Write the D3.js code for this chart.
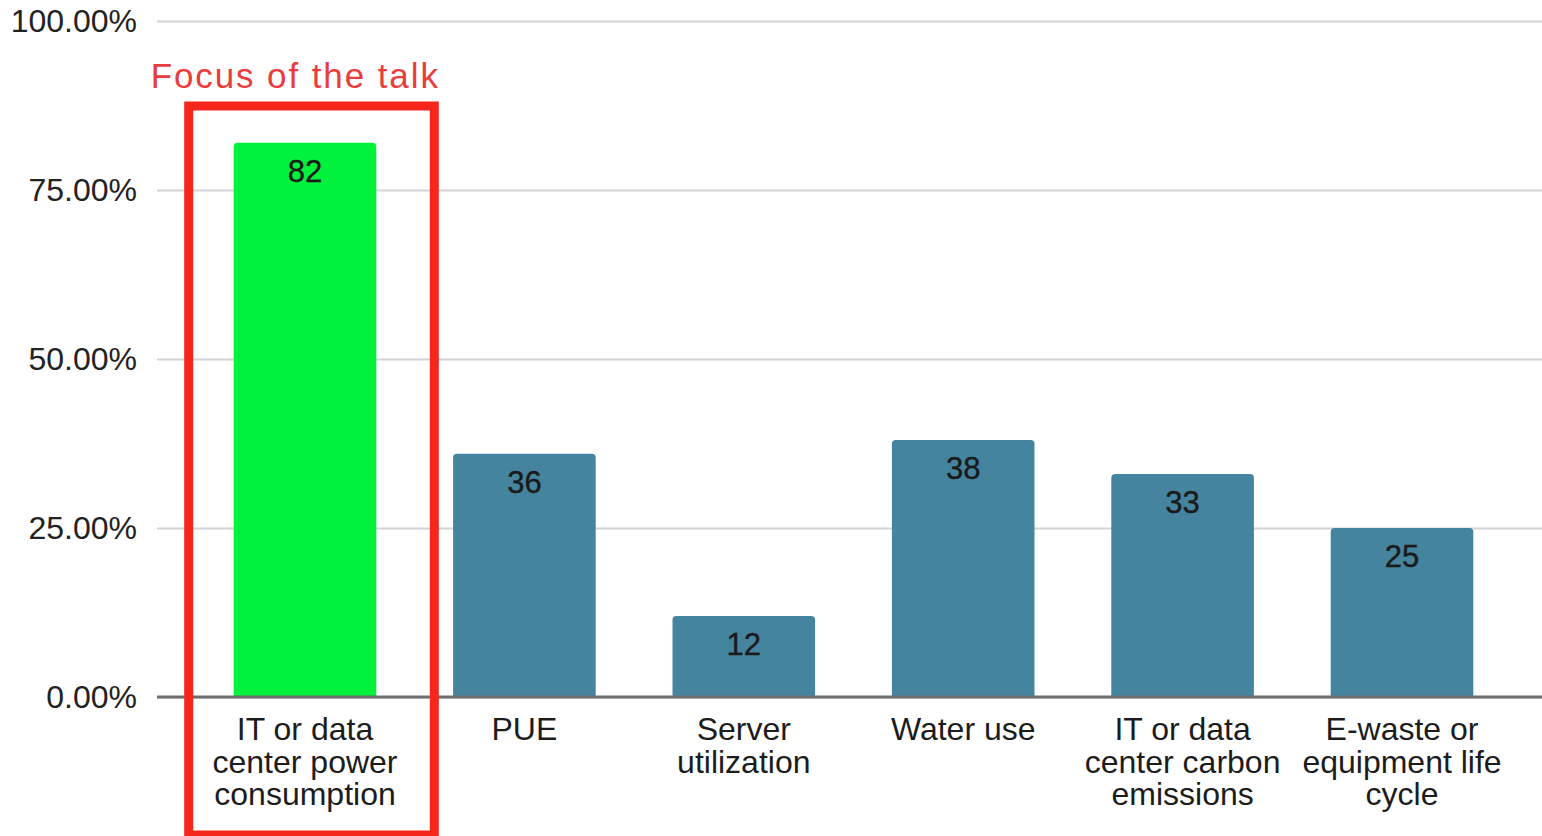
<!DOCTYPE html>
<html>
<head>
<meta charset="utf-8">
<script src="https://cdn.jsdelivr.net/npm/d3@7"></script>
<style>
  html, body { margin: 0; padding: 0; background: #ffffff; }
  svg { display: block; }
  text { font-family: "Liberation Sans", Arial, Helvetica, sans-serif; }
</style>
</head>
<body>
<svg id="chart" width="1542" height="836"></svg>
<script>
// Share of respondents tracking each sustainability metric
const categories = [
  "IT or data center power consumption",
  "PUE",
  "Server utilization",
  "Water use",
  "IT or data center carbon emissions",
  "E-waste or equipment life cycle"
];
const categoryLines = [
  ["IT or data", "center power", "consumption"],
  ["PUE"],
  ["Server", "utilization"],
  ["Water use"],
  ["IT or data", "center carbon", "emissions"],
  ["E-waste or", "equipment life", "cycle"]
];
const values = [82, 36, 12, 38, 33, 25];
const highlighted = [true, false, false, false, false, false];
const yTicks = [0, 0.25, 0.5, 0.75, 1];
const calloutText = "Focus of the talk";

const svg = d3.select("#chart");
const plot = { left: 157, right: 1542, top: 21, bottom: 697 };

const x = d3.scaleBand()
  .domain(categories)
  .range([195.3, 1511.7])
  .paddingInner(0.35)
  .paddingOuter(0.175);

const y = d3.scaleLinear()
  .domain([0, 1])
  .range([plot.bottom, plot.top]);

// Horizontal gridlines and percentage tick labels
const yAxis = d3.axisLeft(y)
  .tickValues(yTicks)
  .tickFormat(d3.format(".2%"))
  .tickSize(-(plot.right - plot.left))
  .tickPadding(20);

const gy = svg.append("g")
  .attr("transform", `translate(${plot.left},0)`)
  .call(yAxis);
gy.select(".domain").remove();
gy.selectAll(".tick line")
  .attr("stroke", "#d4d4d4")
  .attr("stroke-width", 2);
gy.selectAll(".tick text")
  .attr("fill", "#222")
  .attr("font-size", 32)
  .attr("dy", "0.33em");

// Bars with slightly rounded tops
const r = 4;
function barPath(d, i) {
  const x0 = x(categories[i]);
  const w = x.bandwidth();
  const y0 = y(d / 100);
  const yb = y(0);
  return `M${x0},${yb} V${y0 + r} Q${x0},${y0} ${x0 + r},${y0} H${x0 + w - r} Q${x0 + w},${y0} ${x0 + w},${y0 + r} V${yb} Z`;
}

svg.append("g")
  .selectAll("path")
  .data(values)
  .join("path")
  .attr("d", barPath)
  .attr("fill", (d, i) => highlighted[i] ? "#00f23c" : "#45849f");

// Value labels inside the top of each bar
svg.append("g")
  .selectAll("text")
  .data(values)
  .join("text")
  .attr("x", (d, i) => x(categories[i]) + x.bandwidth() / 2)
  .attr("y", d => y(d / 100) + 39)
  .attr("text-anchor", "middle")
  .attr("font-size", 31)
  .attr("fill", "#1a1a1a")
  .attr("stroke", "#1a1a1a")
  .attr("stroke-width", 0.4)
  .text(d => d);

// Baseline
svg.append("line")
  .attr("x1", plot.left)
  .attr("x2", plot.right)
  .attr("y1", y(0))
  .attr("y2", y(0))
  .attr("stroke", "#6e6e6e")
  .attr("stroke-width", 3);

// Category labels, wrapped onto several lines
const catG = svg.append("g")
  .selectAll("text")
  .data(categories)
  .join("text")
  .attr("x", d => x(d) + x.bandwidth() / 2)
  .attr("y", 740)
  .attr("text-anchor", "middle")
  .attr("font-size", 32)
  .attr("fill", "#1c1c1c");
catG.each(function (d, i) {
  d3.select(this).selectAll("tspan")
    .data(categoryLines[i])
    .join("tspan")
    .attr("x", x(d) + x.bandwidth() / 2)
    .attr("dy", (t, j) => j === 0 ? 0 : 32.5)
    .text(t => t);
});

// Callout frame around the highlighted category
const hi = categories[highlighted.indexOf(true)];
svg.append("rect")
  .attr("x", x(hi) - 45)
  .attr("y", 106)
  .attr("width", x.bandwidth() + 103)
  .attr("height", 729)
  .attr("fill", "none")
  .attr("stroke", "#f5261c")
  .attr("stroke-width", 9);

svg.append("text")
  .attr("x", x(hi) - 83)
  .attr("y", 88)
  .attr("font-size", 35)
  .attr("letter-spacing", 1.9)
  .attr("fill", "#ea3c3c")
  .text(calloutText);
</script>
</body>
</html>
